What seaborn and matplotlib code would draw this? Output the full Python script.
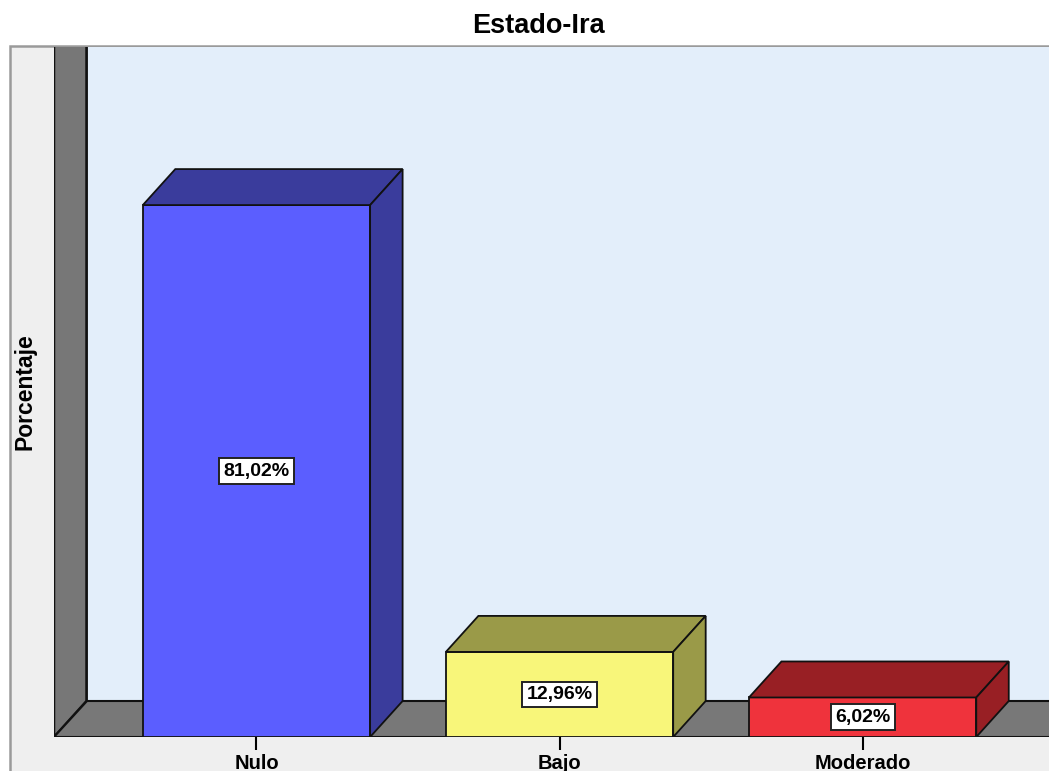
import matplotlib
matplotlib.use("Agg")
import matplotlib.pyplot as plt
import seaborn as sns
import numpy as np
from matplotlib.patches import Polygon, Rectangle

sns.set_theme(style="white")
plt.rcParams['font.family'] = ['Liberation Sans', 'DejaVu Sans']
plt.rcParams['text.color'] = 'black'
plt.rcParams['xtick.color'] = 'black'

# ---- data ----
categories = ["Nulo", "Bajo", "Moderado"]
values = [81.02, 12.96, 6.02]
value_labels = ["81,02%", "12,96%", "6,02%"]
front_colors = ["#5B5EFF", "#F8F67A", "#EF333C"]
side_colors = ["#3A3C9C", "#9A9A48", "#981F24"]
title = "Estado-Ira"
ylabel = "Porcentaje"

W, H = 1049, 771
fig = plt.figure(figsize=(W / 100, H / 100), dpi=100)
fig.patch.set_facecolor("white")

# outer gray panel
fig.patches.append(Rectangle((10 / W, -0.01), 1.1, 1 - 46 / H + 0.01,
                             transform=fig.transFigure, facecolor="#EFEFEF",
                             edgecolor="#9A9A9A", linewidth=1.8, zorder=-5))

ax = fig.add_axes([54 / W, 1 - 737 / H, (W - 54) / W, (737 - 47) / H])
ax.set_zorder(2)
ax.set_facecolor("none")
for s in ax.spines.values():
    s.set_visible(False)

sns.barplot(x=categories, y=values, hue=categories, palette=front_colors,
            saturation=1, width=0.75, ax=ax, legend=False,
            edgecolor="#111111", linewidth=1.3)
bars = list(ax.patches)
for b in bars:
    b.set_zorder(3)

xmin, xmax = -0.668, 2.615
ymax = 105.1
ax.set_xlim(xmin, xmax)
ax.set_ylim(0, ymax)
fig.canvas.draw()

# depth in pixels -> data units
inv = ax.transData.inverted()
p0 = ax.transData.transform((0, 0))
p1 = inv.transform((p0[0] + 32.5, p0[1] + 36))
ddx, ddy = p1[0], p1[1]

ec = "#111111"
# back wall
ax.add_patch(Rectangle((xmin + ddx, ddy), xmax - xmin, ymax, facecolor="#E3EEFA",
                       edgecolor="#333333", linewidth=1.2, zorder=0))
# left wall
ax.add_patch(Polygon([(xmin, 0), (xmin + ddx, ddy), (xmin + ddx, ymax + 10), (xmin, ymax + 10)],
                     closed=True, facecolor="#777777", edgecolor=ec, linewidth=1.8, zorder=1))
# floor
ax.add_patch(Polygon([(xmin, 0), (xmax + 1, 0), (xmax + 1, ddy), (xmin + ddx, ddy)],
                     closed=True, facecolor="#787878", edgecolor=ec, linewidth=1.5, zorder=1))

# 3D tops and sides of bars
for bar, dark, lab in zip(bars, side_colors, value_labels):
    x0 = bar.get_x()
    x1 = x0 + bar.get_width()
    h = bar.get_height()
    top = Polygon([(x0, h), (x1, h), (x1 + ddx, h + ddy), (x0 + ddx, h + ddy)], closed=True,
                  facecolor=dark, edgecolor=ec, linewidth=1.3, zorder=3)
    side = Polygon([(x1, 0), (x1 + ddx, ddy), (x1 + ddx, h + ddy), (x1, h)], closed=True,
                   facecolor=dark, edgecolor=ec, linewidth=1.3, zorder=3)
    ax.add_patch(top)
    ax.add_patch(side)
    ax.text((x0 + x1) / 2, h / 2, lab, ha="center", va="center", fontsize=14,
            fontweight="bold", color="black", zorder=5,
            bbox=dict(boxstyle="square,pad=0.22", facecolor="white", edgecolor="#222222", linewidth=1.4))

ax.set_yticks([])
ax.set_xlabel("")
ax.set_ylabel("")
ax.tick_params(axis="x", bottom=True, direction="out", length=9, width=1.5,
               color="black", pad=3)
for t in ax.get_xticklabels():
    t.set_fontweight("bold")
    t.set_fontsize(14.5)
    t.set_color("black")

fig.text(538 / W, 1 - 26 / H, title, ha="center", va="center", fontsize=19.5, fontweight="bold")
fig.text(25 / W, 1 - 392 / H, ylabel, ha="center", va="center", rotation=90,
         fontsize=16.5, fontweight="bold")

fig.savefig("out.png", dpi=100)
